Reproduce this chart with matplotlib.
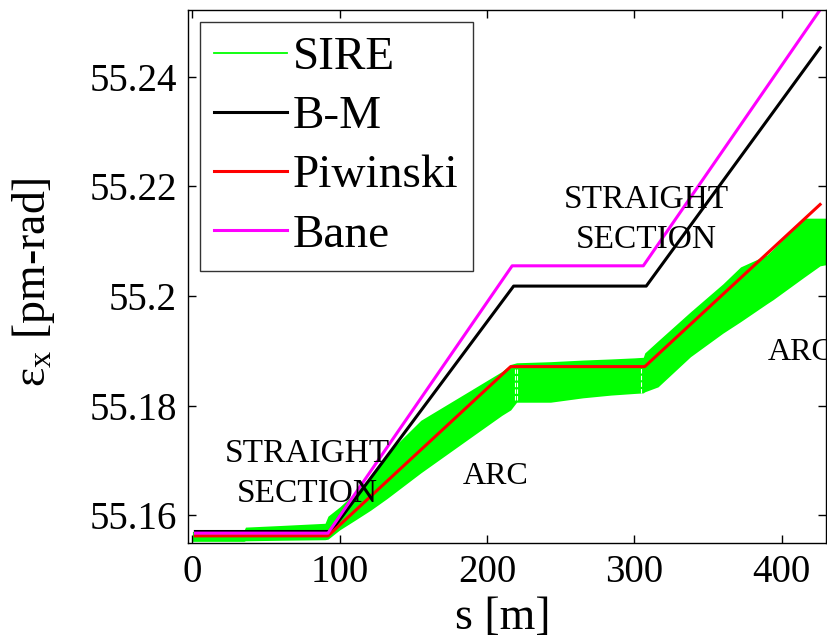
import matplotlib
matplotlib.use("Agg")
import matplotlib.pyplot as plt
import numpy as np

plt.rcParams['font.family'] = ['Liberation Serif', 'DejaVu Serif']
plt.rcParams['mathtext.default'] = 'regular'

# SIRE band (upper / lower envelope of the emittance along s)
sire_s = [0, 35, 36, 60, 90, 92, 100, 110, 121, 132, 155, 189, 210, 216, 220, 243, 265, 284,
          300, 306, 307, 316, 338, 360, 372, 390, 394, 415, 426, 432]
sire_hi = [55.1570, 55.1572, 55.1578, 55.1581, 55.1585, 55.1598, 55.1615, 55.1640, 55.1670, 55.1712,
           55.1773, 55.1828, 55.1862, 55.1875, 55.1878, 55.1880, 55.1883, 55.1885,
           55.1887, 55.1888, 55.1896, 55.1918, 55.1971, 55.2022, 55.2053, 55.2075, 55.2085, 55.2142, 55.2142, 55.2142]
sire_lo = [55.1552, 55.1552, 55.1553, 55.1554, 55.1555, 55.1556, 55.1573, 55.1590, 55.1609, 55.1630,
           55.1677, 55.1742, 55.1782, 55.1792, 55.1806, 55.1806, 55.1814, 55.1819,
           55.1822, 55.1823, 55.1825, 55.1834, 55.1889, 55.1932, 55.1953, 55.1986, 55.1993, 55.2034, 55.2055, 55.2058]

bm_s = [2, 94, 218, 308, 426]
bm_y = [55.1570, 55.1570, 55.2018, 55.2018, 55.2453]

piw_s = [2, 92, 216, 307, 426]
piw_y = [55.1562, 55.1562, 55.1871, 55.1871, 55.2167]

bane_s = [2, 92, 217, 306, 430]
bane_y = [55.1567, 55.1567, 55.2055, 55.2055, 55.2538]

# gaps between band segments (white dashed)
gap_s = [219.0, 220.5, 304.5]
gap_lo = [55.1810, 55.1810, 55.1823]
gap_hi = [55.1866, 55.1866, 55.1872]

fig = plt.figure(figsize=(8.27, 6.42), dpi=100)
ax = fig.add_axes([188/827, 99/642, 638/827, 533/642])

ax.fill_between(sire_s, sire_lo, sire_hi, color='#00ff00', lw=0)
ax.plot([], [], color='#00ff00', lw=1.3, label='SIRE')
for gs, gl, gh in zip(gap_s, gap_lo, gap_hi):
    ax.plot([gs, gs], [gl, gh], color='white', lw=0.8, ls=(0, (4, 2)))
ax.plot(bm_s, bm_y, color='black', lw=2.2, label='B-M')
ax.plot(piw_s, piw_y, color='#ff0000', lw=2.2, label='Piwinski')
ax.plot(bane_s, bane_y, color='#ff00ff', lw=2.2, label='Bane')

ax.set_xlim(-3, 430)
ax.set_ylim(55.1549, 55.2522)
ax.set_xticks([0, 100, 200, 300, 400])
ax.set_yticks([55.16, 55.18, 55.2, 55.22, 55.24])
ax.set_yticklabels(['55.16', '55.18', '55.2', '55.22', '55.24'])
ax.tick_params(direction='in', length=6, width=1, labelsize=28, pad=8,
               top=True, right=True)
for sp in ax.spines.values():
    sp.set_linewidth(1)

ax.set_xlabel('s [m]', fontsize=33)
ax.xaxis.set_label_coords(0.493, -0.10)
ax.set_ylabel('ε$_{x}$ [pm-rad]', fontsize=33)
ax.yaxis.set_label_coords(-0.205, 0.49)

ax.text(78, 55.1675, 'STRAIGHT\nSECTION', fontsize=24, ha='center', va='center', linespacing=1.4)
ax.text(206, 55.1671, 'ARC', fontsize=23, ha='center', va='center')
ax.text(308, 55.2139, 'STRAIGHT\nSECTION', fontsize=24, ha='center', va='center', linespacing=1.4)
ax.text(413, 55.1896, 'ARC', fontsize=23, ha='center', va='center', clip_on=False)

leg = ax.legend(loc='upper left', bbox_to_anchor=(200/827, 1 - 22/642),
                bbox_transform=fig.transFigure, fontsize=34, frameon=True, fancybox=False,
                borderaxespad=0, handlelength=1.55, handletextpad=0.12, labelspacing=0.34,
                borderpad=0.3)
leg.get_frame().set_edgecolor('black')
leg.get_frame().set_linewidth(1)

fig.savefig('out.png', dpi=100)
